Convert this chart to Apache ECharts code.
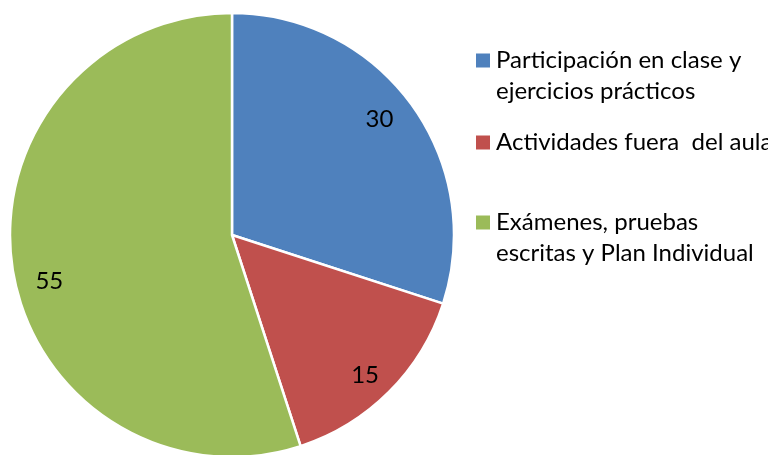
<!DOCTYPE html>
<html>
<head>
<meta charset="utf-8">
<script src="https://cdn.jsdelivr.net/npm/echarts@6/dist/echarts.min.js"></script>
<style>html,body{margin:0;padding:0;background:#fff}#c{width:768px;height:455px}</style>
</head>
<body>
<div id="c"></div>
<script>
const categories = ['Participación en clase y ejercicios prácticos', 'Actividades fuera del aula', 'Exámenes, pruebas escritas y Plan Individual'];
const legendLines = [['Participación en clase y', 'ejercicios prácticos'], ['Actividades fuera  del aula'], ['Exámenes, pruebas', 'escritas y Plan Individual']];
const values = [30, 15, 55];
const colors = ['#4F81BD', '#C0504D', '#9BBB59'];

// label nudges (styling only)
const labelNudge = [[-7, -3], [-2, 5], [6, 16]];

const data = categories.map((n, i) => ({ name: n, value: values[i], itemStyle: { color: colors[i] } }));
const FONT = 'Lato';
const FS = 24;
const LH = 31;

function legendFor(i, top) {
  return {
    data: [categories[i]],
    left: 474, top: top, orient: 'vertical', padding: 0,
    itemWidth: 16, itemHeight: 16, selectedMode: false,
    icon: 'rect',
    formatter: function () {
      const l = legendLines[i];
      return l.length > 1 ? ' \n' + l.join('\n') : l[0];
    },
    textStyle: { fontFamily: FONT, fontSize: FS, lineHeight: LH, color: '#000' }
  };
}

const chart = echarts.init(document.getElementById('c'));
chart.setOption({
  animation: false,
  legend: [legendFor(0, 60.5 - LH * 1.5), legendFor(1, 142.5 - LH / 2), legendFor(2, 222.5 - LH * 1.5)],
  series: [
    {
      type: 'pie', center: [232, 235], radius: 222, startAngle: 90, clockwise: true,
      silent: true, label: { show: false }, labelLine: { show: false },
      itemStyle: { borderColor: '#fff', borderWidth: 2.5 },
      data: data
    },
    {
      type: 'pie', center: [232, 235], radius: [154, 222], startAngle: 90, clockwise: true,
      silent: true, legendHoverLink: false,
      itemStyle: { color: 'transparent', borderWidth: 0 },
      label: { show: true, position: 'inside', formatter: '{c}', fontFamily: FONT, fontSize: FS, color: '#000' },
      labelLine: { show: false },
      labelLayout: function (p) { const n = labelNudge[p.dataIndex]; return { dx: n[0], dy: n[1] }; },
      data: values.map((v, i) => ({ name: categories[i] + ' ', value: v }))
    }
  ]
});
</script>
</body>
</html>
